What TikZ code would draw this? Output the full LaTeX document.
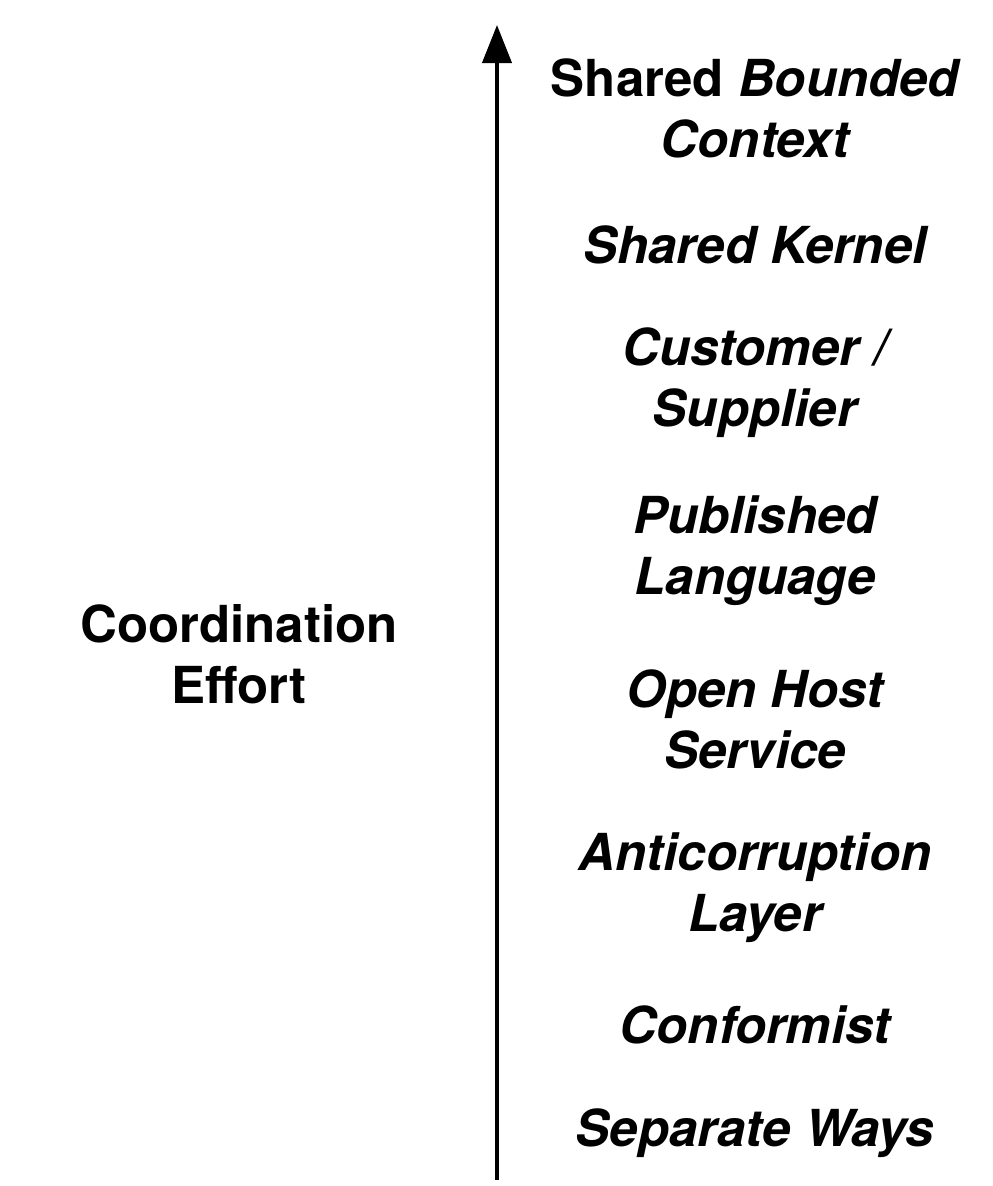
\documentclass[tikz,border=0pt]{standalone}
\usepackage{fontspec}
\setmainfont{TeX Gyre Heros}
\usetikzlibrary{arrows.meta}
\begin{document}
\begin{tikzpicture}[x=1pt,y=-1pt,
  lbl/.style={font=\fontsize{51}{61}\selectfont\bfseries\itshape, align=center, inner sep=0pt},
  axlbl/.style={font=\fontsize{51}{61}\selectfont\bfseries, align=center, inner sep=0pt}]
\useasboundingbox (0,0) rectangle (993,1186);
\coordinate (bot) at (497,1180);
\coordinate (top) at (497,25);
\draw[line width=4pt, -{Triangle[length=38pt,width=29pt]}] (bot) -- (top);
\node[lbl] (sbc) at (755,108) {\upshape Shared \itshape Bounded\\Context};
\node[lbl] (sk) at (755,245) {Shared Kernel};
\node[lbl] (cs) at (755,383) {Customer /\\Supplier};
\node[lbl] (pl) at (755,551) {Published\\Language};
\node[lbl] (ohs) at (755,719) {Open Host\\Service};
\node[lbl] (acl) at (755,888) {Anticorruption\\Layer};
\node[lbl] (cf) at (755,1025) {Conformist};
\node[lbl] (sw) at (755,1133) {Separate Ways};
\node[axlbl] (ce) at (239,654) {Coordination\\Effort};
\end{tikzpicture}
\end{document}
